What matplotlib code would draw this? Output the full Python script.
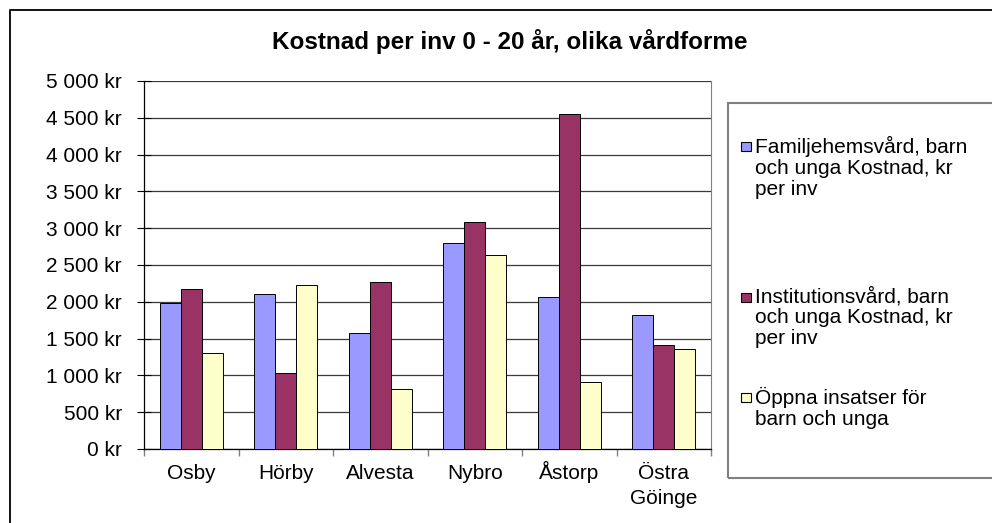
import matplotlib
matplotlib.use("Agg")
import matplotlib.pyplot as plt
from matplotlib.patches import Rectangle
from matplotlib.lines import Line2D
from matplotlib.ticker import FuncFormatter
import numpy as np

kommuner = ["Osby", "Hörby", "Alvesta", "Nybro", "Åstorp", "Östra"]
kommuner_rad2 = ["", "", "", "", "", "Göinge"]
familjehem = [1990, 2105, 1580, 2800, 2060, 1815]
institution = [2180, 1035, 2265, 3085, 4550, 1410]
oppna = [1310, 2230, 820, 2630, 915, 1355]
serier = ["Familjehemsvård, barn\noch unga Kostnad, kr\nper inv",
          "Institutionsvård, barn\noch unga Kostnad, kr\nper inv",
          "Öppna insatser för\nbarn och unga"]
farger = ["#9999FF", "#993366", "#FFFFCC"]
titel = "Kostnad per inv 0 - 20 år, olika vårdforme"

# layout (pixlar) för förklaringens rader
leg_rader = [146, 297, 397]

plt.rcParams['font.family'] = ['Liberation Sans', 'DejaVu Sans']

W, H = 992, 523
fig = plt.figure(figsize=(W / 100, H / 100), dpi=100)


def fx(x):
    return x / W


def fy(y):
    return 1 - y / H


# ram runt diagrammet (beskuren till höger och nertill)
fig.add_artist(Line2D([fx(10), fx(10), fx(1000)], [fy(530), fy(10), fy(10)],
                      transform=fig.transFigure, color="black", lw=1.3))

ax = fig.add_axes([fx(144), fy(449), fx(711) - fx(144), fy(81) - fy(449)])

x = np.arange(len(kommuner))
w = 1 / 4.5
for i, (vals, c) in enumerate(zip([familjehem, institution, oppna], farger)):
    ax.bar(x + (i - 1) * w, vals, w, color=c, edgecolor="black", linewidth=0.7, zorder=3)

ax.set_xlim(-0.5, len(kommuner) - 0.5)
ax.set_ylim(0, 5000)
ax.set_yticks(np.arange(0, 5001, 500))
ax.yaxis.set_major_formatter(FuncFormatter(lambda v, p: f"{int(v):,}".replace(",", " ") + " kr"))
ax.grid(axis="y", color="#3a3a3a", linewidth=0.9, zorder=0)
ax.tick_params(axis="y", direction="inout", length=10, width=0.8, pad=11, labelsize=15)

ax.set_xticks(np.arange(-0.5, len(kommuner), 1))
ax.set_xticklabels([])
ax.tick_params(axis="x", which="major", direction="out", length=5, color="#808080", width=1)

# kategorinamn, två rader, baslinjejusterade
trans = ax.get_xaxis_transform()
ph = fy(81) - fy(449)
for xi, t1, t2 in zip(x, kommuner, kommuner_rad2):
    ax.text(xi, -(479 - 449) / H / ph, t1, transform=trans, ha="center", va="baseline",
            fontsize=15, clip_on=False)
    if t2:
        ax.text(xi, -(504 - 449) / H / ph, t2, transform=trans, ha="center", va="baseline",
                fontsize=15, clip_on=False)

ax.spines["top"].set_visible(False)
ax.spines["right"].set_color("#808080")
ax.spines["left"].set_linewidth(0.9)
ax.spines["bottom"].set_linewidth(0.9)

fig.text(fx(510), fy(42), titel, ha="center", va="center", fontsize=17.5, fontweight="bold")

# förklaring
fig.add_artist(Rectangle((fx(728), fy(478)), fx(1005) - fx(728), fy(103) - fy(478),
                         transform=fig.transFigure, fill=False, edgecolor="#808080", lw=1.5))
for yc, lab, c in zip(leg_rader, serier, farger):
    fig.add_artist(Rectangle((fx(741), fy(yc + 4.5)), fx(751) - fx(741), fy(yc - 4.5) - fy(yc + 4.5),
                             transform=fig.transFigure, facecolor=c, edgecolor="black", lw=0.8))
    fig.text(fx(755), fy(yc - 10), lab, ha="left", va="top", fontsize=15, linespacing=1.12)

fig.savefig("out.png", dpi=100)
